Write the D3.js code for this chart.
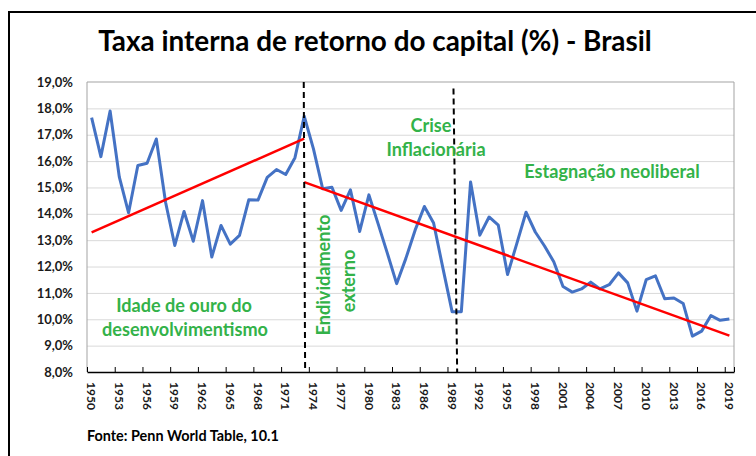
<!DOCTYPE html>
<html>
<head>
<meta charset="utf-8">
<script src="https://cdn.jsdelivr.net/npm/d3@7"></script>
<style>
  body { margin: 0; background: #fff; }
  svg { display: block; font-family: Lato, "Open Sans", sans-serif; }
</style>
</head>
<body>
<div id="chart"></div>
<script>
// Taxa interna de retorno do capital (%), Brasil, 1950-2019
const firstYear = 1950;
const rates = [
  17.65, 16.17, 17.90, 15.39, 14.04, 15.83, 15.92, 16.84, 14.44, 12.80, // 1950s
  14.09, 12.96, 14.50, 12.36, 13.56, 12.85, 13.18, 14.53, 14.52, 15.38, // 1960s
  15.68, 15.49, 16.13, 17.70, 16.46, 14.95, 15.01, 14.13, 14.91, 13.33, // 1970s
  14.72, 13.62, 12.50, 11.35, 12.31, 13.38, 14.28, 13.65, 11.95, 10.29, // 1980s
  10.29, 15.21, 13.19, 13.88, 13.57, 11.70, 12.87, 14.06, 13.31, 12.78, // 1990s
  12.18, 11.24, 11.03, 11.15, 11.41, 11.15, 11.31, 11.76, 11.38, 10.31, // 2000s
  11.50, 11.65, 10.78, 10.81, 10.60, 9.36, 9.55, 10.14, 9.96, 10.01     // 2010s
];
const years = rates.map((d, i) => firstYear + i);
const labelYears = years.filter((d, i) => i % 3 === 0);
const yTicks = [8, 9, 10, 11, 12, 13, 14, 15, 16, 17, 18, 19];

// trend lines (year, %)
const trendGolden = [[1950, 13.30], [1973, 16.85]];
const trendLater = [[1973, 15.20], [2019, 9.38]];

// dashed period breaks: year at top, year at bottom, top value
const breaks = [[1972.95, 1973.1, 19], [1989.15, 1989.55, 18.75]];

const width = 756, height = 456;
const plot = { left: 87, right: 734, top: 82, bottom: 372 };

const svg = d3.select("#chart").append("svg")
  .attr("width", width)
  .attr("height", height);

svg.append("rect").attr("width", width).attr("height", height).attr("fill", "#fff");

// outer frame (only left and top visible)
svg.append("path")
  .attr("d", `M9,${height} V12 H${width}`)
  .attr("fill", "none")
  .attr("stroke", "#000")
  .attr("stroke-width", 2);

// scales
const x = d3.scaleBand().domain(years).range([plot.left, plot.right]).padding(0);
const bw = x.bandwidth();
const xYear = d3.scaleLinear()
  .domain([years[0], years[years.length - 1]])
  .range([x(years[0]) + bw / 2, x(years[years.length - 1]) + bw / 2]);
const xIdx = d3.scaleLinear().domain([0, years.length]).range([plot.left, plot.right]);
const y = d3.scaleLinear().domain([8, 19]).range([plot.bottom, plot.top]);

// grid
svg.append("g")
  .attr("transform", `translate(${plot.left},0)`)
  .call(d3.axisLeft(y).tickValues(yTicks.slice(1, -1)).tickSize(-(plot.right - plot.left)).tickFormat(""))
  .call(g => g.select(".domain").remove())
  .call(g => g.selectAll("line").attr("stroke", "#d9d9d9").attr("stroke-width", 1));

// plot border
svg.append("path")
  .attr("d", `M${plot.left},${plot.bottom} V${plot.top} H${plot.right} V${plot.bottom}`)
  .attr("fill", "none")
  .attr("stroke", "#a3a3a3")
  .attr("stroke-width", 1);

// y axis labels
svg.append("g")
  .attr("transform", `translate(${plot.left},0)`)
  .call(d3.axisLeft(y).tickValues(yTicks).tickSize(0).tickPadding(14)
    .tickFormat(d => d.toFixed(1).replace(".", ",") + "%"))
  .call(g => g.select(".domain").remove())
  .call(g => g.selectAll("text")
    .style("font-family", "Lato, sans-serif")
    .style("font-size", "13px")
    .style("font-weight", "bold")
    .attr("fill", "#1a1a1a"));

// x axis: tick marks between categories, pointing up
const tickIdx = d3.range(0, years.length, 3).concat([years.length]);
svg.append("g")
  .attr("transform", `translate(0,${plot.bottom})`)
  .call(d3.axisBottom(xIdx).tickValues(tickIdx).tickSizeInner(-5).tickSizeOuter(0).tickFormat(""))
  .call(g => g.select(".domain").attr("stroke", "#000").attr("stroke-width", 1.5))
  .call(g => g.selectAll("line").attr("stroke", "#000"));

// x labels rotated
svg.append("g")
  .attr("transform", `translate(0,${plot.bottom})`)
  .call(d3.axisBottom(x).tickValues(labelYears).tickSize(0))
  .call(g => g.select(".domain").remove())
  .call(g => g.selectAll("text")
    .attr("transform", "rotate(90)")
    .attr("x", 10)
    .attr("y", 0)
    .attr("dy", "0.36em")
    .style("text-anchor", "start")
    .style("font-family", "Lato, sans-serif")
    .style("font-size", "12px")
    .style("font-weight", "bold")
    .attr("fill", "#1a1a1a"));

// data line
const line = d3.line()
  .x((d, i) => x(years[i]) + bw / 2)
  .y(d => y(d));

svg.append("path")
  .datum(rates)
  .attr("d", line)
  .attr("fill", "none")
  .attr("stroke", "#4472c4")
  .attr("stroke-width", 3)
  .attr("stroke-linejoin", "round");

// trend lines
const trendLine = d3.line().x(d => xYear(d[0])).y(d => y(d[1]));
[trendGolden, trendLater].forEach(t => {
  svg.append("path")
    .datum(t)
    .attr("d", trendLine)
    .attr("fill", "none")
    .attr("stroke", "#ff0000")
    .attr("stroke-width", 2.5);
});

// dashed breaks
breaks.forEach(b => {
  svg.append("line")
    .attr("x1", xYear(b[0]))
    .attr("y1", y(b[2]))
    .attr("x2", xYear(b[1]))
    .attr("y2", y(7.97))
    .attr("stroke", "#000")
    .attr("stroke-width", 2)
    .attr("stroke-dasharray", "6,4");
});

// annotations
const green = "#33b249";
const notes = [
  { t: "Idade de ouro do", x: 184, y: 312, w: 138 },
  { t: "desenvolvimentismo", x: 185, y: 336, w: 170 },
  { t: "Crise", x: 431, y: 132, w: 38 },
  { t: "Inflacionária", x: 436, y: 156, w: 98 },
  { t: "Estagnação neoliberal", x: 612, y: 178, w: 175 },
  { t: "Endividamento", x: 330, y: 275, w: 120, rot: true },
  { t: "externo", x: 355, y: 281, w: 62, rot: true }
];
const noteText = svg.append("g").selectAll("text")
  .data(notes)
  .join("text")
  .attr("transform", d => `translate(${d.x},${d.y})` + (d.rot ? " rotate(-90)" : ""))
  .attr("text-anchor", "middle")
  .style("font-family", "Lato, sans-serif")
  .style("font-weight", "bold")
  .style("font-size", "18px")
  .attr("fill", green)
  .text(d => d.t);
let measured = 0;
noteText.each(function () { measured += this.getComputedTextLength(); });
const noteSize = 18 * d3.sum(notes, d => d.w) / measured;
noteText.style("font-size", noteSize + "px");

// title
const title = svg.append("text")
  .attr("x", 375)
  .attr("y", 51)
  .attr("text-anchor", "middle")
  .style("font-family", "Lato, sans-serif")
  .style("font-weight", "bold")
  .style("font-size", "24px")
  .attr("fill", "#000")
  .text("Taxa interna de retorno do capital (%) - Brasil");
title.style("font-size", 24 * 554 / title.node().getComputedTextLength() + "px");

// source
const source = svg.append("text")
  .attr("x", 87)
  .attr("y", 441)
  .style("font-family", "Lato, sans-serif")
  .style("font-weight", "bold")
  .style("font-size", "12px")
  .attr("fill", "#000")
  .text("Fonte: Penn World Table, 10.1");
source.style("font-size", 12 * 192 / source.node().getComputedTextLength() + "px");
</script>
</body>
</html>
